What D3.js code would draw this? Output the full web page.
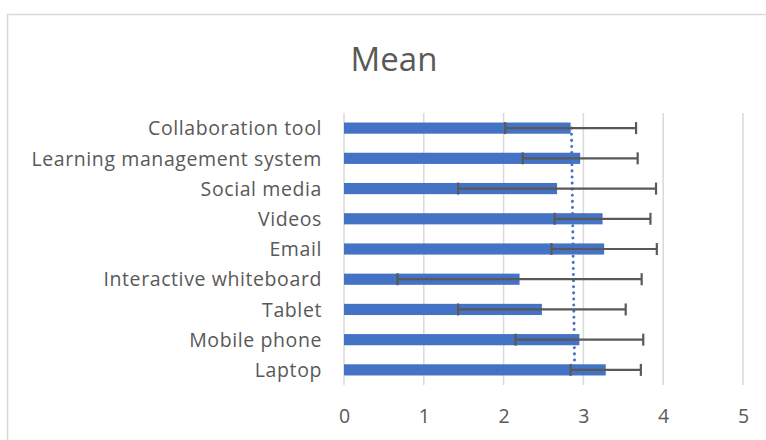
<!DOCTYPE html>
<html>
<head>
<meta charset="utf-8">
<script src="https://cdn.jsdelivr.net/npm/d3@7"></script>
<style>
	body{margin:0;background:#fff;}
	text{font-family:"Open Sans", "Noto Sans", sans-serif;fill:#595959;}
</style>
</head>
<body>
<script>
// categories top to bottom, mean value and the +/- error
var categories = ["Collaboration tool","Learning management system","Social media","Videos","Email","Interactive whiteboard","Tablet","Mobile phone","Laptop"];
var means = [2.84, 2.96, 2.67, 3.24, 3.26, 2.20, 2.48, 2.95, 3.28];
var errors = [0.82, 0.72, 1.24, 0.60, 0.66, 1.53, 1.05, 0.80, 0.44];
// dotted line value at first and last category
var avgLine = [2.85, 2.89];
var xTicks = [0, 1, 2, 3, 4, 5];

var w = 766;
var h = 440;
var plotLeft = 344, plotRight = 743, plotTop = 113, plotBottom = 385;

var svg = d3.select("body")
	.append("svg")
	.attr("width", w)
	.attr("height", h);

// chart border
svg.append("rect")
	.attr("x", 7.5).attr("y", 14.5)
	.attr("width", 800).attr("height", 500)
	.attr("fill", "none")
	.attr("stroke", "#d9d9d9")
	.attr("stroke-width", 1.5);

svg.append("text")
	.attr("x", 394).attr("y", 71)
	.attr("text-anchor", "middle")
	.style("font-size", "33px")
	.text("Mean");

var x = d3.scaleLinear().domain([0, 5]).range([plotLeft, plotRight]);
var y = d3.scaleBand().domain(categories).range([plotTop, plotBottom]).paddingInner(0.63).paddingOuter(0.315);

// gridlines
svg.selectAll(".grid")
	.data(xTicks)
	.enter()
	.append("line")
	.attr("x1", function(d){return x(d)})
	.attr("x2", function(d){return x(d)})
	.attr("y1", plotTop)
	.attr("y2", plotBottom)
	.attr("stroke", "#d9d9d9")
	.attr("stroke-width", 1.5);

var xAxis = svg.append("g")
	.attr("transform", "translate(0," + plotBottom + ")")
	.call(d3.axisBottom(x).tickValues(xTicks).tickSize(0).tickPadding(24).tickFormat(d3.format("d")));
xAxis.select(".domain").remove();
xAxis.selectAll("text").style("font-size", "19.5px").attr("fill", "#595959");

var yAxis = svg.append("g")
	.attr("transform", "translate(" + (plotLeft - 22) + ",1)")
	.call(d3.axisLeft(y).tickSize(0).tickPadding(0));
yAxis.select(".domain").remove();
yAxis.selectAll("text")
	.style("font-size", "19.5px")
	.style("letter-spacing", "0.6px")
	.attr("fill", "#595959");

// bars
svg.selectAll(".bar")
	.data(categories)
	.enter()
	.append("rect")
	.attr("x", x(0))
	.attr("y", function(d){return y(d)})
	.attr("width", function(d,i){return x(means[i]) - x(0)})
	.attr("height", y.bandwidth())
	.attr("fill", "#4472c4");

// dotted line
var yMid = function(d){return y(d) + y.bandwidth()/2};
svg.append("line")
	.attr("x1", x(avgLine[0]))
	.attr("x2", x(avgLine[1]))
	.attr("y1", yMid(categories[0]))
	.attr("y2", yMid(categories[categories.length-1]))
	.attr("stroke", "#4472c4")
	.attr("stroke-width", 3)
	.attr("stroke-linecap", "round")
	.attr("stroke-dasharray", "0.1,6");

// error bars
var eb = svg.selectAll(".err")
	.data(categories)
	.enter()
	.append("g");
eb.append("line")
	.attr("x1", function(d,i){return x(means[i] - errors[i])})
	.attr("x2", function(d,i){return x(means[i] + errors[i])})
	.attr("y1", yMid).attr("y2", yMid)
	.attr("stroke", "#595959").attr("stroke-width", 2.2);
eb.append("line")
	.attr("x1", function(d,i){return x(means[i] - errors[i])})
	.attr("x2", function(d,i){return x(means[i] - errors[i])})
	.attr("y1", function(d){return yMid(d) - 6})
	.attr("y2", function(d){return yMid(d) + 6})
	.attr("stroke", "#595959").attr("stroke-width", 2.2);
eb.append("line")
	.attr("x1", function(d,i){return x(means[i] + errors[i])})
	.attr("x2", function(d,i){return x(means[i] + errors[i])})
	.attr("y1", function(d){return yMid(d) - 6})
	.attr("y2", function(d){return yMid(d) + 6})
	.attr("stroke", "#595959").attr("stroke-width", 2.2);
</script>
</body>
</html>
